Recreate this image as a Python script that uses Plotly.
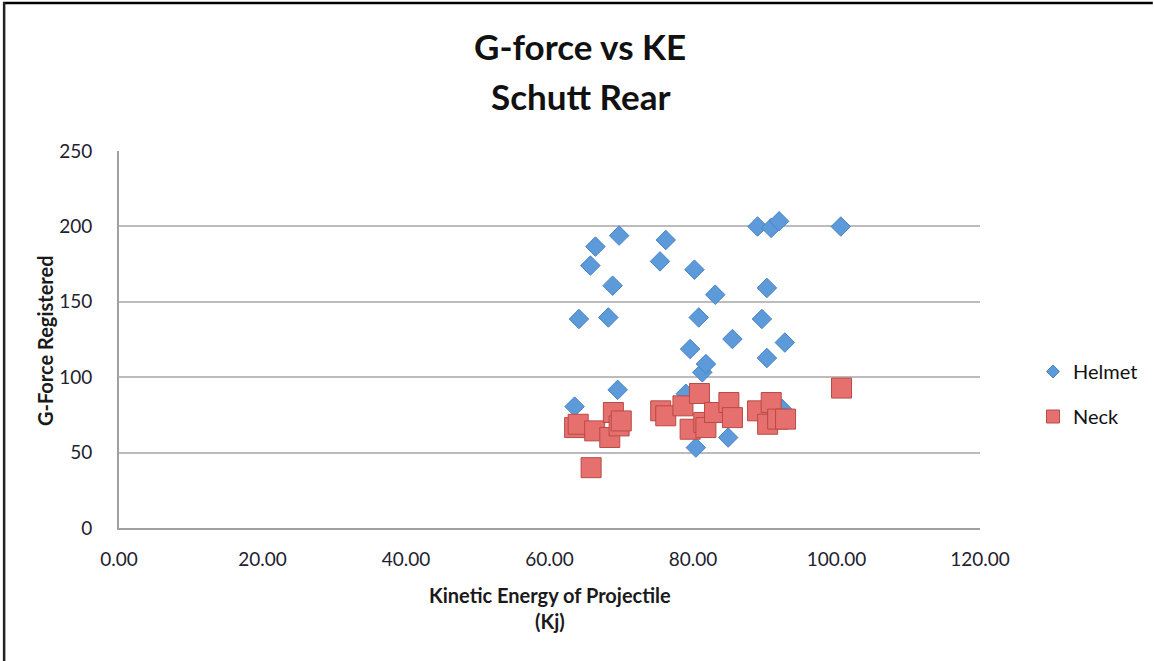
import plotly.graph_objects as go

helmet_x = [63.5, 64.1, 65.7, 66.4, 68.2, 68.8, 69.5, 69.7, 75.4, 76.2, 79.0, 79.6, 80.2, 80.4, 80.8,
            81.3, 81.8, 83.1, 84.9, 85.5, 89.0, 89.6, 90.3, 90.3, 90.9, 92.0, 92.4, 92.8, 100.6]
helmet_y = [80.5, 138.6, 174, 186.6, 139.6, 160.7, 91.6, 193.9, 176.8, 191, 89, 118.7, 171.3, 53.3, 139.6,
            103.2, 108.7, 154.7, 60, 125.3, 199.9, 138.6, 159.2, 112.7, 199, 203.4, 79, 123, 199.9]

neck_x = [63.5, 64.0, 65.8, 66.3, 68.4, 68.9, 69.7, 70.0, 75.5, 76.2, 78.6, 79.6, 80.9, 81.5, 81.8,
          83.0, 85.0, 85.5, 89.0, 90.4, 90.9, 91.8, 92.9, 100.7]
neck_y = [66.6, 68.8, 40, 64.4, 60, 76.6, 67.7, 71, 77.7, 74.4, 81, 65.5, 89.2, 70, 66.6,
          76.6, 83.2, 73.2, 77.7, 68.8, 83.2, 72.2, 72.2, 92.8]

x_ticks = [0, 20, 40, 60, 80, 100, 120]
x_tick_labels = ["0.00", "20.00", "40.00", "60.00", "80.00", "100.00", "120.00"]
y_ticks = [0, 50, 100, 150, 200, 250]
title_lines = ["G-force vs KE", "Schutt Rear"]

FONT = "Lato"
BLUE = "#5c9ad9"
BLUE_LINE = "#4a84c4"
RED = "#e6706d"
RED_LINE = "#b94a47"

fig = go.Figure()
fig.add_trace(go.Scatter(x=helmet_x, y=helmet_y, mode="markers", name="Helmet", showlegend=False,
                         marker=dict(symbol="diamond", size=15, color=BLUE,
                                     line=dict(color=BLUE_LINE, width=1))))
fig.add_trace(go.Scatter(x=neck_x, y=neck_y, mode="markers", name="Neck", showlegend=False,
                         marker=dict(symbol="square", size=20, color=RED,
                                     line=dict(color=RED_LINE, width=1))))
# legend entries
fig.add_trace(go.Scatter(x=[None], y=[None], mode="markers", name="Helmet", legendgroup="h",
                         marker=dict(symbol="diamond", size=10, color=BLUE, line=dict(color=BLUE_LINE, width=1))))
fig.add_trace(go.Scatter(x=[None], y=[None], mode="markers", name="Neck", legendgroup="n",
                         marker=dict(symbol="square", size=13, color=RED, line=dict(color=RED_LINE, width=1))))

W, H = 1154, 661
L, R, T, B = 119, 173, 151, 133
pw, ph = W - L - R, H - T - B
bottom = T + ph


def py(p):
    return (bottom - p) / ph


def px(p):
    return (p - L) / pw


annotations = [
    dict(text="<b>%s</b>" % title_lines[0], x=px(581), y=py(46), xref="paper", yref="paper",
         xanchor="center", yanchor="middle", showarrow=False,
         font=dict(size=35, family=FONT, color="#111111")),
    dict(text="<b>%s</b>" % title_lines[1], x=px(581), y=py(96), xref="paper", yref="paper",
         xanchor="center", yanchor="middle", showarrow=False,
         font=dict(size=35, family=FONT, color="#111111")),
    dict(text="<b>Kinetic Energy of Projectile<br>(Kj)</b>", x=px(550), y=py(608), xref="paper", yref="paper",
         xanchor="center", yanchor="middle", showarrow=False,
         font=dict(size=20, family=FONT, color="#1a1a1a")),
    dict(text="<b>G-Force Registered</b>", x=px(45), y=py(341), xref="paper", yref="paper",
         xanchor="center", yanchor="middle", showarrow=False, textangle=-90,
         font=dict(size=20, family=FONT, color="#1a1a1a")),
]

fig.update_layout(
    width=W, height=H,
    margin=dict(l=L, r=R, t=T, b=B),
    paper_bgcolor="white", plot_bgcolor="white",
    font=dict(family=FONT, color="#222222"),
    xaxis=dict(range=[0, 120], tickvals=x_ticks, ticktext=x_tick_labels, showgrid=False,
               showline=True, linecolor="#a0a0a0", linewidth=2, zeroline=False,
               tickfont=dict(size=19, family=FONT, color="#1e2230"), ticks="outside", ticklen=13,
               tickcolor="rgba(0,0,0,0)"),
    yaxis=dict(range=[0, 250], tickvals=y_ticks, showgrid=True, gridcolor="#bcbcbc", gridwidth=2,
               showline=True, linecolor="#a0a0a0", linewidth=2, zeroline=False,
               tickfont=dict(size=19, family=FONT, color="#1e2230"), ticks="outside", ticklen=21,
               tickcolor="rgba(0,0,0,0)"),
    legend=dict(x=px(1033), y=py(352), xanchor="left", yanchor="top",
                font=dict(size=20, family=FONT, color="#111111"), tracegroupgap=16, itemwidth=30,
                traceorder="grouped", bgcolor="rgba(0,0,0,0)"),
    annotations=annotations,
    shapes=[
        dict(type="line", xref="paper", yref="paper", x0=px(3), x1=px(1154), y0=py(3), y1=py(3),
             line=dict(color="black", width=2.5)),
        dict(type="line", xref="paper", yref="paper", x0=px(4), x1=px(4), y0=py(2), y1=py(661),
             line=dict(color="#222222", width=2.5)),
    ],
)

fig.write_html("out.html", config={"displayModeBar": False},
               post_script="document.body.style.margin='0px';")
